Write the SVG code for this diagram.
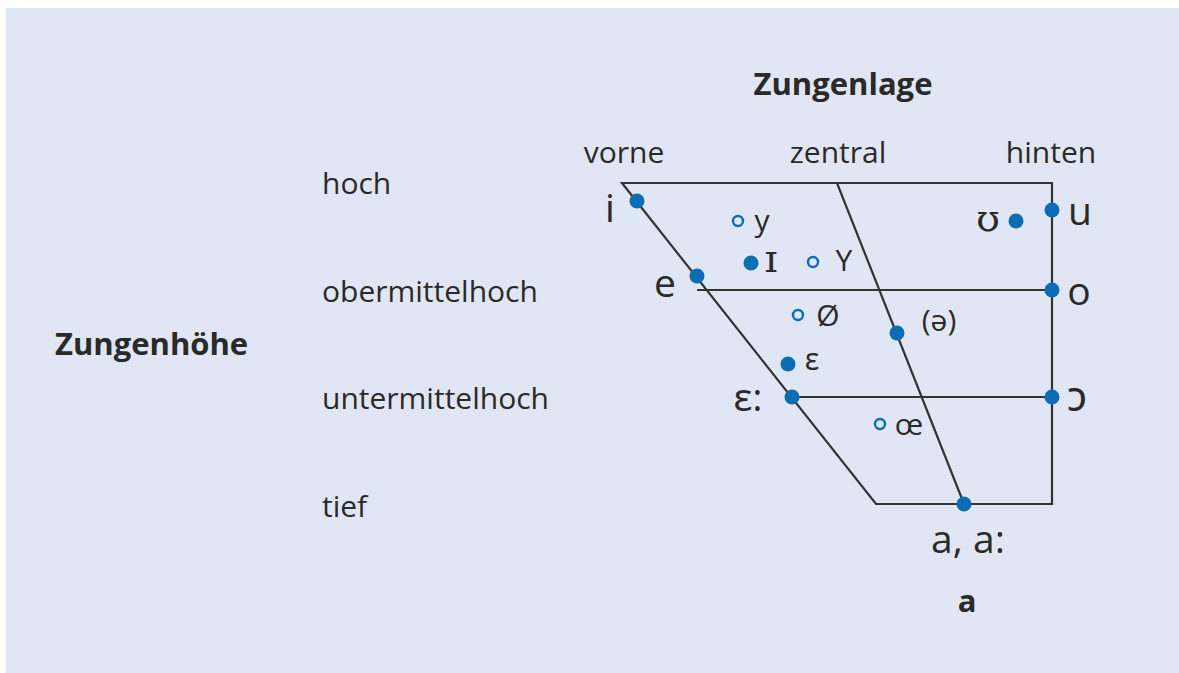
<svg xmlns="http://www.w3.org/2000/svg" width="1179" height="673" viewBox="0 0 1179 673">
<style>
text{font-family:"Open Sans","Noto Sans","Liberation Sans",sans-serif;fill:#2a2a2a}
.lab{font-size:30px}
.b{font-weight:bold;font-size:31px}
.v{font-size:39px}
.s{font-size:30px}
.ln{stroke:#333;stroke-width:2.2;fill:none}
.dot{fill:#0b6db3}
.ring{fill:none;stroke:#0b6db3;stroke-width:2.4}
</style>
<rect x="0" y="0" width="1179" height="673" fill="#ffffff"/>
<rect x="6" y="8" width="1173" height="665" fill="#e0e6f3"/>
<g id="titles">
<text class="b" x="843" y="95" text-anchor="middle">Zungenlage</text>
<text class="b" x="55" y="355">Zungenhöhe</text>
<text class="lab" x="624" y="163" text-anchor="middle">vorne</text>
<text class="lab" x="838" y="163" text-anchor="middle">zentral</text>
<text class="lab" x="1051" y="163" text-anchor="middle">hinten</text>
<text class="lab" x="322" y="194">hoch</text>
<text class="lab" x="322" y="302">obermittelhoch</text>
<text class="lab" x="322" y="409">untermittelhoch</text>
<text class="lab" x="322" y="517">tief</text>
<text class="b" x="967" y="612" text-anchor="middle">a</text>
</g>
<g id="connectors">
<path class="ln" d="M622,183 H1052 V504 H876 Z"/>
<line class="ln" x1="697" y1="290" x2="1052" y2="290"/>
<line class="ln" x1="792" y1="397" x2="1052" y2="397"/>
<line class="ln" x1="837" y1="183" x2="964" y2="504"/>
</g>
<g id="v-i"><circle class="dot" cx="637" cy="201" r="7.5"/><text class="v" x="610" y="222" text-anchor="middle">i</text></g>
<g id="v-e"><circle class="dot" cx="697" cy="276" r="7.5"/><text class="v" x="665" y="297" text-anchor="middle">e</text></g>
<g id="v-eps-long"><circle class="dot" cx="792" cy="397" r="7.5"/><text class="v" x="748" y="411" text-anchor="middle">ɛ:</text></g>
<g id="v-a"><circle class="dot" cx="964" cy="504" r="7.5"/><text class="v" x="968" y="553" text-anchor="middle">a, a:</text></g>
<g id="v-u"><circle class="dot" cx="1052" cy="210" r="7.5"/><text class="v" x="1080" y="225" text-anchor="middle">u</text></g>
<g id="v-o"><circle class="dot" cx="1052" cy="290" r="7.5"/><text class="v" x="1079" y="305" text-anchor="middle">o</text></g>
<g id="v-open-o"><circle class="dot" cx="1052" cy="397" r="7.5"/><text x="1077" y="411" text-anchor="middle" style="font-size:42px">ɔ</text></g>
<g id="v-upsilon"><circle class="dot" cx="1016" cy="221" r="7.5"/><text x="988" y="231" text-anchor="middle" style="font-family:'DejaVu Serif','Liberation Serif',serif;font-size:38px">ʊ</text></g>
<g id="v-small-i"><circle class="dot" cx="751" cy="263" r="7.5"/><text x="771" y="272" text-anchor="middle" style="font-family:'DejaVu Serif','Liberation Serif',serif;font-size:40px">ɪ</text></g>
<g id="v-eps"><circle class="dot" cx="788" cy="364" r="7.5"/><text class="s" x="812" y="370" text-anchor="middle">ɛ</text></g>
<g id="v-schwa"><circle class="dot" cx="897" cy="333" r="7.5"/><text class="s" x="939" y="331" text-anchor="middle">(ə)</text></g>
<g id="v-y"><circle class="ring" cx="738" cy="221" r="5"/><text class="s" x="762" y="231" text-anchor="middle">y</text></g>
<g id="v-Y"><circle class="ring" cx="813" cy="262" r="5"/><text class="s" x="844" y="271" text-anchor="middle">Y</text></g>
<g id="v-oe-slash"><circle class="ring" cx="798" cy="315" r="5"/><text class="s" x="828" y="326" text-anchor="middle">Ø</text></g>
<g id="v-oe"><circle class="ring" cx="880" cy="424" r="5"/><text class="s" x="909" y="435" text-anchor="middle">œ</text></g>
</svg>
